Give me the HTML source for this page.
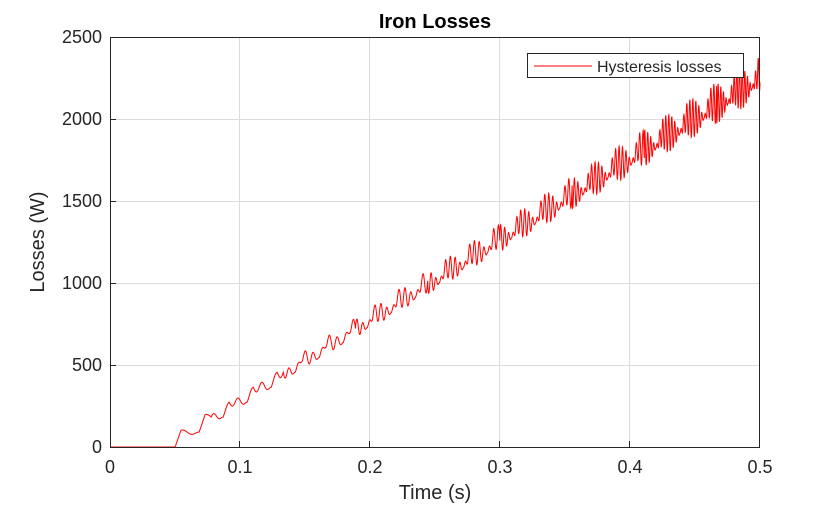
<!DOCTYPE html><html><head><style>body{margin:0;background:#fff}svg text{font-family:"Liberation Sans",sans-serif}</style></head><body>
<svg id="s" width="840" height="505" xmlns="http://www.w3.org/2000/svg">
<rect width="840" height="505" fill="#fff"/>
<g stroke="#dcdcdc" stroke-width="1">
<line x1="239.5" y1="37" x2="239.5" y2="447"/><line x1="369.5" y1="37" x2="369.5" y2="447"/><line x1="499.5" y1="37" x2="499.5" y2="447"/><line x1="629.5" y1="37" x2="629.5" y2="447"/>
<line x1="110" y1="365.5" x2="760" y2="365.5"/><line x1="110" y1="283.5" x2="760" y2="283.5"/><line x1="110" y1="201.5" x2="760" y2="201.5"/><line x1="110" y1="119.5" x2="760" y2="119.5"/>
</g>
<path id="d" fill="none" stroke="#ff0000" stroke-width="1"/>
<rect x="110.5" y="37.5" width="649" height="410" fill="none" stroke="#262626"/>
<g stroke="#262626"><line x1="239.5" y1="447" x2="239.5" y2="441"/><line x1="369.5" y1="447" x2="369.5" y2="441"/><line x1="499.5" y1="447" x2="499.5" y2="441"/><line x1="629.5" y1="447" x2="629.5" y2="441"/>
<line x1="110" y1="365.5" x2="116" y2="365.5"/><line x1="110" y1="283.5" x2="116" y2="283.5"/><line x1="110" y1="201.5" x2="116" y2="201.5"/><line x1="110" y1="119.5" x2="116" y2="119.5"/></g>
<g font-size="18" fill="#262626" text-anchor="middle">
<text x="110" y="473">0</text><text x="240" y="473">0.1</text><text x="370" y="473">0.2</text><text x="500" y="473">0.3</text><text x="630" y="473">0.4</text><text x="760" y="473">0.5</text>
<text x="435" y="499" font-size="20">Time (s)</text>
</g>
<g font-size="18" fill="#262626" text-anchor="end">
<text x="102" y="453">0</text><text x="102" y="371">500</text><text x="102" y="289">1000</text><text x="102" y="207">1500</text><text x="102" y="125">2000</text><text x="102" y="43">2500</text>
</g>
<text transform="translate(44,242) rotate(-90)" font-size="20" fill="#262626" text-anchor="middle">Losses (W)</text>
<text x="435" y="28" font-size="20" font-weight="bold" fill="#000" text-anchor="middle">Iron Losses</text>
<rect x="527.5" y="53.5" width="216" height="24" fill="#fff" stroke="#262626"/>
<line x1="534" y1="66" x2="592" y2="66" stroke="#ff0000"/>
<text x="597" y="72" font-size="16" fill="#262626">Hysteresis losses</text>
</svg>
<script>
var p=[];
for(var i=0;i<=4000;i++){var t=i/8000,v=0;
if(t>0.05){var u=t-0.05;var k=Math.floor(u/0.0185),ph=(u/0.0185)-k;
var base=(k+Math.min(1,ph*4))*93;
var n=Math.round(1+u*18),env=Math.sin(Math.PI*ph);
var A=15+260*u;
v=base*0.98+env*A*Math.sin(2*Math.PI*n*ph);if(v<0)v=0;}
var x=110+t*1300,y=447-v*0.164;p.push((i?'L':'M')+x.toFixed(2)+' '+y.toFixed(2));}
document.getElementById('d').setAttribute('d',p.join(''));
</script>
</body></html>
